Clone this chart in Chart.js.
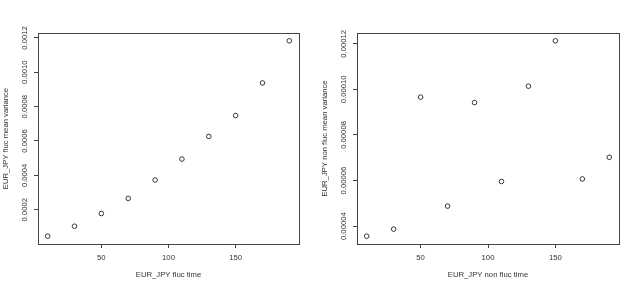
<!DOCTYPE html>
<html>
<head>
<meta charset="utf-8">
<script src="https://cdn.jsdelivr.net/npm/chart.js@4/dist/chart.umd.min.js"></script>
<style>
  html, body { margin: 0; padding: 0; background: #fff; }
  #wrap { position: relative; width: 638px; height: 287px; }
  .panel { position: absolute; top: 0; width: 319px; height: 287px; }
</style>
</head>
<body>
<div id="wrap">
  <div class="panel" style="left:0"><canvas id="fluc" width="319" height="287"></canvas></div>
  <div class="panel" style="left:319px"><canvas id="nonfluc" width="319" height="287"></canvas></div>
</div>
<script>
// Data
const times = [10, 30, 50, 70, 90, 110, 130, 150, 170, 190];
const flucVariance = [0.000046, 0.000104, 0.000178, 0.000266, 0.000373, 0.000495, 0.000627, 0.000748, 0.000938, 0.001183];
const nonFlucVariance = [0.0000356, 0.0000387, 0.0000966, 0.0000488, 0.0000942, 0.0000596, 0.0001014, 0.0001213, 0.0000607, 0.0000702];

const xTicks = [50, 100, 150];
const flucYTicks = [0.0002, 0.0004, 0.0006, 0.0008, 0.0010, 0.0012];
const nonFlucYTicks = [0.00004, 0.00006, 0.00008, 0.00010, 0.00012];

const textColor = '#333333';
const frameColor = '#444444';
const fontFamily = '"Liberation Sans", Arial, sans-serif';
const fontSize = 7.7;

// R's default axis range: data range extended by 4% on each side
function rRange(values) {
    const lo = Math.min(...values), hi = Math.max(...values);
    const pad = (hi - lo) * 0.04;
    return { min: lo - pad, max: hi + pad };
}

// Draws the plot box and the vertical (R style) y tick labels
const rFrame = {
    id: 'rFrame',
    afterDraw(chart, args, opts) {
        const { ctx, chartArea: a } = chart;
        const yScale = chart.scales.y;
        ctx.save();
        ctx.strokeStyle = frameColor;
        ctx.lineWidth = 1;
        ctx.strokeRect(Math.round(a.left) + 0.5, Math.round(a.top) + 0.5,
            Math.round(a.right - a.left), Math.round(a.bottom - a.top));

        ctx.fillStyle = textColor;
        ctx.font = fontSize + 'px ' + fontFamily;
        ctx.textAlign = 'center';
        ctx.textBaseline = 'middle';
        opts.ticks.forEach(v => {
            const py = yScale.getPixelForValue(v);
            ctx.save();
            ctx.translate(a.left - 13, py);
            ctx.rotate(-Math.PI / 2);
            ctx.fillText(v.toFixed(opts.decimals), 0, 0);
            ctx.restore();
        });
        ctx.restore();
    }
};

function makeScatter(canvasId, yValues, yTicks, decimals, xTitle, yTitle, padRight) {
    const xr = rRange(times);
    const yr = rRange(yValues);
    const font = { family: fontFamily, size: fontSize };

    return new Chart(document.getElementById(canvasId), {
        type: 'scatter',
        data: {
            datasets: [{
                data: times.map((t, i) => ({ x: t, y: yValues[i] })),
                pointStyle: 'circle',
                pointRadius: 2.3,
                pointBorderWidth: 0.9,
                pointBorderColor: '#222222',
                pointBackgroundColor: 'rgba(0,0,0,0)'
            }]
        },
        plugins: [rFrame],
        options: {
            responsive: false,
            animation: false,
            layout: { padding: { top: 33, right: padRight, left: 0, bottom: 0 } },
            plugins: {
                legend: { display: false },
                tooltip: { enabled: false },
                rFrame: { ticks: yTicks, decimals: decimals }
            },
            scales: {
                x: {
                    type: 'linear',
                    min: xr.min,
                    max: xr.max,
                    afterBuildTicks: scale => { scale.ticks = xTicks.map(v => ({ value: v })); },
                    afterFit: scale => { scale.height = 43; },
                    grid: { drawOnChartArea: false, tickLength: 4, color: frameColor },
                    border: { display: false },
                    ticks: { color: textColor, font: font, padding: 5, maxRotation: 0 },
                    title: { display: true, text: xTitle, color: textColor, font: font, padding: { top: 0, bottom: 7.4 } }
                },
                y: {
                    type: 'linear',
                    min: yr.min,
                    max: yr.max,
                    afterBuildTicks: scale => { scale.ticks = yTicks.map(v => ({ value: v })); },
                    afterFit: scale => { scale.width = 38; },
                    grid: { drawOnChartArea: false, tickLength: 4, color: frameColor },
                    border: { display: false },
                    ticks: { display: false },
                    title: { display: true, text: yTitle, color: textColor, font: font, padding: { top: 1.4, bottom: 0 } }
                }
            }
        }
    });
}

makeScatter('fluc', flucVariance, flucYTicks, 4,
    'EUR_JPY fluc time', 'EUR_JPY fluc mean variance', 20);
makeScatter('nonfluc', nonFlucVariance, nonFlucYTicks, 5,
    'EUR_JPY non fluc time', 'EUR_JPY non fluc mean variance', 19);
</script>
</body>
</html>
